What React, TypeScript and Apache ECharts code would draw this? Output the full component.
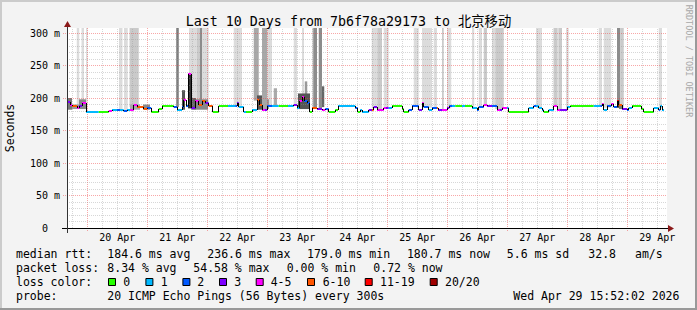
import React, { useEffect, useRef } from 'react';
import * as echarts from 'echarts';

// ---- time axis (hours since Apr 19 15:52:02) ----
const SPAN_H = 240;
const FIRST_NOON_H = 20.1328;
const FIRST_MIDNIGHT_H = 8.1328;
const dayLabels = ['20 Apr', '21 Apr', '22 Apr', '23 Apr', '24 Apr', '25 Apr', '26 Apr', '27 Apr', '28 Apr', '29 Apr'];
const noonHours = dayLabels.map((_, i) => FIRST_NOON_H + 24 * i);

// ---- value axis (milliseconds) ----
const Y_MAX = 307.7;
const yTicks = [0, 50, 100, 150, 200, 250, 300];

// ---- loss legend ----
const lossLabels = ['0', '1', '2', '3', '4-5', '6-10', '11-19', '20/20'];
const lossColors = ['#26ff00', '#00b8ff', '#0059ff', '#7e00ff', '#ff00ff', '#ff5500', '#ff0000', '#a00000'];

// ---- median rtt steps: [startHour, medianMs, lossClass] ----
const medianSteps: [number, number, number][] = [
  [0, 194, 3], [1.2, 190, 4], [2.0, 187, 5], [4.0, 184, 4], [4.8, 188, 3], [6.0, 192, 4],
  [7.6, 179, 1], [12.7, 179, 0], [16.7, 180.5, 4], [18.0, 182, 1], [20.0, 182, 2], [21.2, 182, 1],
  [22.7, 180, 2], [24.0, 182, 1], [25.2, 182, 4], [26.7, 189, 4], [28.0, 186, 5], [30.7, 183, 5],
  [32.0, 185, 2], [33.7, 179, 0], [36.7, 183, 0], [38.0, 187, 0], [42.7, 186, 2], [44.0, 181, 1],
  [46.0, 186, 2], [46.7, 197, 4], [47.6, 187, 2], [48.4, 236.6, 4], [49.7, 184, 3], [51.3, 195, 4],
  [52.7, 189, 5], [54.0, 195, 5], [55.3, 192, 3], [56.7, 187, 5], [58.3, 179, 0], [60.7, 187, 0],
  [64.4, 187, 1], [67.3, 187, 2], [68.0, 193, 3], [68.7, 186, 1], [70.7, 179, 1], [71.6, 179, 0],
  [74.0, 181, 1], [76.0, 197, 5], [76.9, 190, 5], [78.0, 181, 4], [79.2, 181, 3], [80.0, 187, 2],
  [82.0, 187, 1], [84.7, 187, 0], [88.4, 187, 1], [90.7, 189.7, 3], [92.0, 185, 1], [92.9, 196, 4],
  [94.0, 201.5, 4], [94.8, 195, 2], [96.1, 192, 2], [97.1, 179, 0], [98.0, 184, 5], [100.0, 183, 3],
  [102.0, 182, 4], [103.3, 183, 2], [104.7, 179, 0], [107.3, 182, 0], [108.4, 187, 1], [115.3, 185, 2],
  [116.3, 179, 0], [117.3, 181, 1], [118.0, 179, 1], [120.7, 182, 3], [122.0, 182, 5], [122.7, 185.5, 3],
  [124.0, 181, 4], [126.7, 184, 4], [127.6, 184, 3], [128.7, 185, 1], [130.0, 187, 0], [134.0, 183, 0],
  [134.7, 179, 0], [136.7, 182, 2], [138.0, 187, 2], [140.7, 181, 3], [142.0, 192, 4], [142.7, 185.5, 2],
  [144.7, 181, 1], [146.0, 184, 2], [148.0, 184, 5], [148.4, 182, 3], [150.0, 181, 4], [152.0, 184, 3],
  [152.9, 187, 2], [154.0, 187, 1], [155.3, 187, 0], [158.0, 187, 1], [159.2, 187, 0], [162.0, 184, 1],
  [164.0, 181, 2], [164.7, 185.5, 2], [166.7, 189.7, 4], [168.0, 187, 3], [170.0, 187, 2], [172.0, 182, 4],
  [173.2, 182, 3], [174.0, 184, 4], [176.0, 184, 1], [176.7, 179, 0], [184.7, 184, 1], [186.7, 187, 2],
  [187.6, 187, 1], [188.7, 185, 1], [190.0, 181, 1], [190.7, 179, 0], [192.7, 181, 1], [194.7, 187, 4],
  [196.0, 181, 4], [197.2, 181, 3], [200.0, 185.5, 1], [201.3, 187, 0], [210.7, 187, 1], [213.3, 187, 2],
  [214.0, 191, 4], [214.7, 182, 1], [216.0, 187, 2], [217.7, 191, 4], [218.7, 185.5, 2], [220.0, 195.5, 6],
  [220.7, 188.5, 5], [222.0, 183, 3], [224.0, 181, 2], [224.7, 184, 1], [226.0, 187, 0], [229.7, 183, 0],
  [230.7, 179, 0], [234.7, 184, 1], [236.7, 182, 2], [237.3, 187, 1], [238.0, 181, 1],
];
const MEDIAN_END_H = 238.8;

// ---- smoke reaching the top: [startHour, endHour, lowerMs, shade] ----
const smokeBands: [number, number, number, number][] = [
  [3.9, 4.9, 186, 0], [5.8, 6.8, 190, 0], [7.6, 8.2, 181, 0], [20.8, 22.2, 182, 0], [22.8, 24.3, 181, 0],
  [25.0, 28.7, 186, 1], [43.7, 44.7, 186, 4], [48.8, 52.0, 190, 0], [52.0, 53.2, 190, 1], [53.2, 54.0, 192, 3],
  [54.0, 56.7, 190, 0], [66.7, 70.0, 187, 0], [74.7, 76.7, 196, 2], [78.0, 80.0, 183, 2], [80.0, 82.0, 187, 0],
  [90.7, 92.0, 190, 0], [94.0, 94.8, 200, 0], [98.0, 98.5, 184, 0], [98.5, 100.0, 184, 3], [100.7, 102.0, 183, 3],
  [121.9, 124.1, 184, 0], [124.1, 126.0, 182, 1], [126.7, 128.7, 184, 0], [138.7, 140.7, 187, 0],
  [142.0, 146.0, 185, 0], [146.7, 148.0, 184, 0], [150.0, 150.7, 181, 1], [152.0, 153.7, 184, 0],
  [162.0, 162.9, 184, 0], [164.7, 166.0, 185, 0], [166.7, 168.0, 190, 1], [170.0, 171.3, 187, 0],
  [171.3, 174.7, 183, 1], [187.6, 190.0, 185, 0], [194.6, 196.0, 187, 1], [196.0, 196.8, 181, 0],
  [196.8, 198.0, 181, 1], [199.6, 200.7, 182, 0], [212.7, 214.0, 187, 0], [214.7, 217.7, 185, 0],
  [220.0, 221.3, 190, 3], [221.3, 222.7, 185, 1], [236.7, 238.0, 184, 0],
];
const bandShades = ['#dcdcdc', '#cacaca', '#a8a8a8', '#8c8c8c', '#7a7a7a'];

// ---- local smoke around the median: [startHour, endHour, lowMs, highMs, shade] ----
const smokeBars: [number, number, number, number, number][] = [
  [0, 2.0, 182, 200, 3], [2.0, 4.8, 183, 190, 1], [4.8, 7.6, 183, 198, 2], [25.2, 29.2, 182, 190, 0],
  [30.4, 33.2, 182, 190, 2], [46.0, 47.2, 182, 212, 5], [48.4, 49.7, 184, 236.6, 6], [49.7, 51.6, 182, 200, 4],
  [51.6, 56.4, 182, 198, 2], [76.0, 78.0, 182, 204, 5], [80.0, 80.8, 183, 198, 1], [82.7, 84.0, 188, 215, 0],
  [95.1, 96.1, 195, 225.6, 1], [92.4, 97.2, 183, 207, 5], [102.0, 102.9, 186, 218, 4],
  [220.0, 220.8, 185, 197, 6], [220.8, 222.0, 183, 190, 3],
];
const barShades = ['#aaaaaa', '#999999', '#888888', '#777777', '#666666', '#555555', '#333333'];

// ---- legend texts ----
const rttStats = ['184.6 ms avg', '236.6 ms max', '179.0 ms min', '180.7 ms now', '5.6 ms sd', '32.8', 'am/s'];
const lossStats = ['8.34 % avg', '54.58 % max', '0.00 % min', '0.72 % now'];
const probeText = '20 ICMP Echo Pings (56 Bytes) every 300s';
const stampText = 'Wed Apr 29 15:52:02 2026';
const titleText = 'Last 10 Days from 7b6f78a29173 to 北京移动';

const MONO = '"DejaVu Sans Mono", monospace';

function txt(text: string, x: number, y: number, size: number, opts: any = {}) {
  const align = opts.align || 'left';
  return {
    type: 'text',
    x,
    y,
    rotation: opts.rotation || 0,
    silent: true,
    z: 100,
    style: {
      text,
      x: 0,
      y: 0,
      font: `${size}px ${opts.family || MONO}`,
      fill: opts.fill || '#000',
      align,
      verticalAlign: 'middle',
      textAlign: align,
      textVerticalAlign: 'middle',
    },
  };
}

export default function App() {
  const ref = useRef<HTMLDivElement>(null);

  useEffect(() => {
    if (!ref.current) return;
    const chart = echarts.init(ref.current, undefined, { renderer: 'svg' });

    const medianData = medianSteps.map((s, i) => [
      s[0],
      i + 1 < medianSteps.length ? medianSteps[i + 1][0] : MEDIAN_END_H,
      s[1],
      s[2],
      i > 0 ? medianSteps[i - 1][1] : s[1],
    ]);

    const vgrid: number[][] = [];
    for (let k = 0; ; k++) {
      const h = FIRST_MIDNIGHT_H - 6 + 6 * k;
      if (h > SPAN_H) break;
      vgrid.push([h, 0, (k - 1) % 4 === 0 ? 1 : 0]);
    }
    const hgrid: number[][] = [];
    for (let v = 10; v <= 300; v += 10) hgrid.push([0, v, v % 50 === 0 ? 1 : 0]);

    const crisp = (n: number) => Math.round(n - 0.5) + 0.5;
    const MINOR = 'rgba(150,150,150,0.38)';
    const MAJOR = 'rgba(240,60,60,0.45)';

    const graphic: any[] = [
      // frame
      { type: 'rect', silent: true, z: 100, shape: { x: 0, y: 0, width: 697, height: 2 }, style: { fill: '#cbcbcb' } },
      { type: 'rect', silent: true, z: 100, shape: { x: 0, y: 0, width: 2, height: 310 }, style: { fill: '#cbcbcb' } },
      { type: 'rect', silent: true, z: 100, shape: { x: 0, y: 308, width: 697, height: 2 }, style: { fill: '#999999' } },
      { type: 'rect', silent: true, z: 100, shape: { x: 695, y: 0, width: 2, height: 310 }, style: { fill: '#999999' } },
      // axis lines + arrows
      { type: 'line', silent: true, z: 100, shape: { x1: 62, y1: 228.5, x2: 668, y2: 228.5 }, style: { stroke: '#000', lineWidth: 1 } },
      { type: 'line', silent: true, z: 100, shape: { x1: 67.5, y1: 233, x2: 67.5, y2: 26 }, style: { stroke: '#333', lineWidth: 1 } },
      { type: 'polygon', silent: true, z: 100, shape: { points: [[668, 225], [674, 228.5], [668, 232]] }, style: { fill: '#8b1a1a' } },
      { type: 'polygon', silent: true, z: 100, shape: { points: [[64, 27], [67.5, 21], [71, 27]] }, style: { fill: '#8b1a1a' } },
      // titles
      txt(titleText, 348.5, 21.5, 13.3, { align: 'center', family: '"DejaVu Sans Mono", "Noto Sans CJK SC", monospace' }),
      txt('Seconds', 10, 128, 11.5, { align: 'center', rotation: Math.PI / 2 }),
      txt('RRDTOOL / TOBI OETIKER', 688.5, 61, 8.5, { align: 'center', rotation: -Math.PI / 2, fill: '#a8a8a8' }),
      // legend row 1
      txt('median rtt:', 16, 253.8, 11.5),
      ...rttStats.map((s, i) => txt(s, [107.3, 207.3, 307, 406.9, 506.8, 588.3, 635][i], 253.8, 11.5)),
      // legend row 2
      txt('packet loss:', 16, 267.9, 11.5),
      ...lossStats.map((s, i) => txt(s, [107.3, 193.3, 286.7, 373.3][i], 267.9, 11.5)),
      // legend row 3
      txt('loss color:', 16, 282, 11.5),
      ...lossLabels.map((_, i) => ({
        type: 'rect', silent: true, z: 100,
        shape: { x: [108.5, 145.9, 182.9, 219.5, 256.2, 307.5, 365.2, 430.2][i], y: 278.5, width: 7, height: 7 },
        style: { fill: lossColors[i], stroke: '#000', lineWidth: 1 },
      })),
      ...lossLabels.map((s, i) => txt(s, [123.3, 160.7, 197.3, 234.3, 270.7, 322.7, 380, 445][i], 282, 11.5)),
      // legend row 4
      txt('probe:', 16, 296.1, 11.5),
      txt(probeText, 107.3, 296.1, 11.5),
      txt(stampText, 513.3, 296.1, 11.5),
    ];

    const option: any = {
      animation: false,
      backgroundColor: '#f3f3f3',
      textStyle: { fontFamily: MONO },
      grid: { left: 67, top: 28, width: 600, height: 200, show: true, backgroundColor: '#ffffff', borderWidth: 0 },
      xAxis: {
        type: 'value', min: 0, max: SPAN_H,
        axisLine: { show: false }, axisTick: { show: false }, splitLine: { show: false },
        axisLabel: {
          customValues: noonHours,
          formatter: (v: number) => dayLabels[Math.round((v - FIRST_NOON_H) / 24)] ?? '',
          margin: 4, fontSize: 10, color: '#000', fontFamily: MONO,
        },
      },
      yAxis: {
        type: 'value', min: 0, max: Y_MAX,
        axisLine: { show: false }, axisTick: { show: false }, splitLine: { show: false },
        axisLabel: {
          customValues: yTicks,
          formatter: (v: number) => (v === 0 ? '0\u00a0\u00a0' : v % 50 === 0 ? `${v} m` : ''),
          margin: 7, fontSize: 10, color: '#000', fontFamily: MONO,
        },
      },
      graphic,
      series: [
        {
          type: 'custom', z: 1, silent: true, data: smokeBands,
          encode: { x: [0, 1], y: 2 },
          renderItem: (_p: any, api: any) => {
            const a = api.coord([api.value(0), Y_MAX]);
            const b = api.coord([api.value(1), api.value(2)]);
            return { type: 'rect', shape: { x: a[0], y: a[1], width: b[0] - a[0], height: b[1] - a[1] }, style: { fill: bandShades[api.value(3)] } };
          },
        },
        {
          type: 'custom', z: 2, silent: true, data: smokeBars,
          encode: { x: [0, 1], y: [2, 3] },
          renderItem: (_p: any, api: any) => {
            const a = api.coord([api.value(0), api.value(3)]);
            const b = api.coord([api.value(1), api.value(2)]);
            return { type: 'rect', shape: { x: a[0], y: a[1], width: b[0] - a[0], height: b[1] - a[1] }, style: { fill: barShades[api.value(4)] } };
          },
        },
        {
          type: 'custom', z: 3, silent: true, data: vgrid,
          renderItem: (_p: any, api: any) => {
            const a = api.coord([api.value(0), 0]);
            const b = api.coord([api.value(0), Y_MAX]);
            const x = crisp(a[0]);
            const major = api.value(2) === 1;
            return {
              type: 'line',
              shape: { x1: x, y1: a[1] + (major ? 3 : 0), x2: x, y2: b[1] },
              style: { stroke: major ? MAJOR : MINOR, lineWidth: 1, lineDash: [1, 1] },
            };
          },
        },
        {
          type: 'custom', z: 3, silent: true, data: hgrid,
          renderItem: (_p: any, api: any) => {
            const a = api.coord([0, api.value(1)]);
            const b = api.coord([SPAN_H, api.value(1)]);
            const y = crisp(a[1]);
            const major = api.value(2) === 1;
            return {
              type: 'line',
              shape: { x1: a[0] - (major ? 4 : 0), y1: y, x2: b[0], y2: y },
              style: { stroke: major ? MAJOR : MINOR, lineWidth: 1, lineDash: [1, 1] },
            };
          },
        },
        {
          type: 'custom', z: 4, silent: true, data: medianData,
          encode: { x: [0, 1], y: 2 },
          renderItem: (_p: any, api: any) => {
            const a = api.coord([api.value(0), api.value(2)]);
            const b = api.coord([api.value(1), api.value(2)]);
            const prev = api.coord([api.value(0), api.value(4)]);
            const y = Math.round(a[1]);
            return {
              type: 'group',
              children: [
                { type: 'line', shape: { x1: a[0], y1: y, x2: b[0], y2: y }, style: { stroke: lossColors[api.value(3)], lineWidth: 2 } },
                { type: 'line', shape: { x1: crisp(a[0]), y1: Math.round(prev[1]), x2: crisp(a[0]), y2: y }, style: { stroke: '#000', lineWidth: 1 } },
              ],
            };
          },
        },
      ],
    };

    chart.setOption(option);
    return () => chart.dispose();
  }, []);

  return <div ref={ref} style={{ position: 'absolute', left: 0, top: 0, width: 697, height: 310 }} />;
}
